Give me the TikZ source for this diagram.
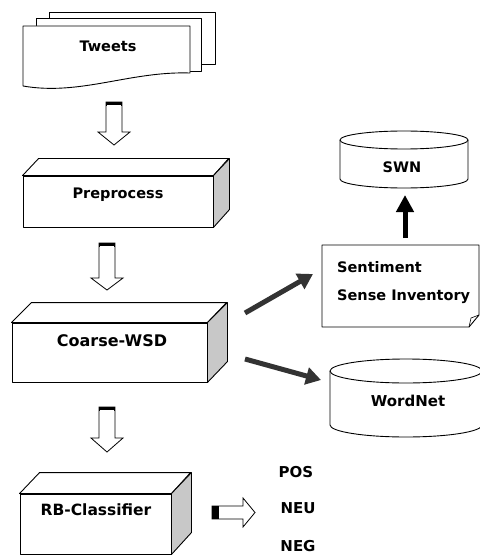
\documentclass[tikz,border=0pt]{standalone}
\usepackage{fontspec}
\setmainfont{DejaVu Sans}
\usetikzlibrary{arrows.meta}
\definecolor{sidegray}{HTML}{C8C8C8}
\definecolor{arrowdark}{HTML}{333333}
\tikzset{
  outline/.style={draw=black, line width=0.9pt, line join=round},
  frontface/.style={outline, fill=white, rectangle, inner sep=0pt},
  sideface/.style={outline, fill=sidegray},
  topface/.style={outline, fill=white},
  lbl/.style={font=\bfseries, inner sep=0pt},
  hollow/.style={draw=black, line width=0.8pt, fill=white, line join=miter},
  fatarrow/.style={draw=arrowdark, line width=5pt, -{Triangle[length=15pt,width=17pt]}},
  blackarrow/.style={draw=black, line width=5pt, -{Triangle[length=17pt,width=17pt]}},
}
% hollow downward arrow: center x, top y, head-start y, tip y
\newcommand{\hollowdown}[4]{%
  \path[hollow] (#1-8,#2) -- (#1+8,#2) -- (#1+8,#3) -- (#1+16,#3) -- (#1,#4)
    -- (#1-16,#3) -- (#1-8,#3) -- cycle;
  \fill[black] (#1-8,#2) rectangle (#1+8,#2+4);
  \draw[white, line width=0.6pt] (#1-7,#2+3) -- (#1+7,#2+3);
}
\begin{document}
\begin{tikzpicture}[x=1pt,y=-1pt]
\useasboundingbox (0,0) rectangle (479,556);
\fill[white] (0,0) rectangle (479,556);

% ---------- Tweets (multi-document) ----------
\path[outline, fill=white] (49,12) -- (215,12) -- (215,64) -- (49,64) -- cycle;
\path[outline, fill=white] (36,18) -- (201,18) -- (201,71) -- (36,71) -- cycle;
\path[outline, fill=white] (23,26) -- (190,26) -- (190,73)
   .. controls (130,71) and (80,96) .. (23,86) -- cycle;
\node[lbl, font=\bfseries\fontsize{14.5}{16}\selectfont] (tw) at (108,46) {Tweets};

% arrow 1
\hollowdown{114}{102}{132}{145}

% ---------- Preprocess ----------
\node[frontface, minimum width=190pt, minimum height=51pt] (pre) at (118,201.5) {};
\path[topface] (pre.north west) -- ++(16,-17) -- ++(190,0) -- (pre.north east) -- cycle;
\path[sideface] (pre.north east) -- ++(16,-17) -- ++(0,51) -- (pre.south east) -- cycle;
\node[lbl, font=\bfseries\fontsize{14.5}{16}\selectfont] (pret) at (118,195) {Preprocess};

% arrow 2
\hollowdown{107}{243}{278}{290}

% ---------- Coarse-WSD ----------
\node[frontface, minimum width=195pt, minimum height=59pt] (cw) at (109.5,352.5) {};
\path[topface] (cw.north west) -- ++(20,-20) -- ++(195,0) -- (cw.north east) -- cycle;
\path[sideface] (cw.north east) -- ++(20,-20) -- ++(0,59) -- (cw.south east) -- cycle;
\node[lbl, font=\bfseries\fontsize{16}{18}\selectfont] (cwt) at (112,341) {Coarse-WSD};

% arrow 3
\hollowdown{107}{407}{438}{452}

% ---------- RB-Classifier ----------
\node[frontface, minimum width=151pt, minimum height=60pt] (rb) at (95.5,524) {};
\path[topface] (rb.north west) -- ++(20,-21) -- ++(151,0) -- (rb.north east) -- cycle;
\path[sideface] (rb.north east) -- ++(20,-21) -- ++(0,60) -- (rb.south east) -- cycle;
\node[lbl, font=\bfseries\fontsize{15.5}{18}\selectfont] (rbt) at (96,510) {RB-Classifier};

% horizontal hollow arrow
\path[hollow] (212,506) -- (243,506) -- (243,498) -- (255,512.5) -- (243,527)
  -- (243,519) -- (212,519) -- cycle;
\fill[black] (212,506) rectangle (219,519);

% outputs
\node[lbl, font=\bfseries\fontsize{15}{18}\selectfont] (pos) at (296,472) {POS};
\node[lbl, font=\bfseries\fontsize{15}{18}\selectfont] (neu) at (298,508) {NEU};
\node[lbl, font=\bfseries\fontsize{15}{18}\selectfont] (neg) at (298,546) {NEG};

% ---------- SWN cylinder ----------
\path[outline, fill=white] (340,140) -- (340,179)
  arc[start angle=180, end angle=0, x radius=64, y radius=9] -- (468,140)
  arc[start angle=360, end angle=180, x radius=64, y radius=9] -- cycle;
\draw[outline] (340,140) arc[start angle=180, end angle=0, x radius=64, y radius=9];
\node[lbl, font=\bfseries\fontsize{14.5}{16}\selectfont] (swn) at (402,167) {SWN};

% ---------- Sentiment Sense Inventory (note) ----------
\path[outline, fill=white] (322,245) -- (479,245) -- (479,315) -- (469,327) -- (322,327) -- cycle;
\draw[outline, line width=0.6pt] (469,327) -- (471,318) -- (479,315);
\node[lbl, anchor=west, font=\bfseries\fontsize{14.5}{16}\selectfont] (s1) at (337,267) {Sentiment};
\node[lbl, anchor=west, font=\bfseries\fontsize{14.5}{16}\selectfont] (s2) at (337,297) {Sense Inventory};
\coordinate (ssileft) at (313,274);

% ---------- WordNet cylinder ----------
\path[outline, fill=white] (330,371) -- (330,425)
  arc[start angle=180, end angle=0, x radius=76, y radius=12] -- (482,371)
  arc[start angle=360, end angle=180, x radius=76, y radius=12] -- cycle;
\draw[outline] (330,371) arc[start angle=180, end angle=0, x radius=76, y radius=12];
\node[lbl, font=\bfseries\fontsize{15}{18}\selectfont] (wn) at (408,401) {WordNet};
\coordinate (wnleft) at (321,380);

% ---------- arrows ----------
\coordinate (ssitop) at (405,238);
\coordinate (swnbot) at (405,195);
\draw[blackarrow] (ssitop) -- (swnbot);
\coordinate (c1) at (245,313);
\coordinate (c2) at (245,359);
\draw[fatarrow] (c1) -- (ssileft);
\draw[fatarrow] (c2) -- (wnleft);
\end{tikzpicture}
\end{document}
